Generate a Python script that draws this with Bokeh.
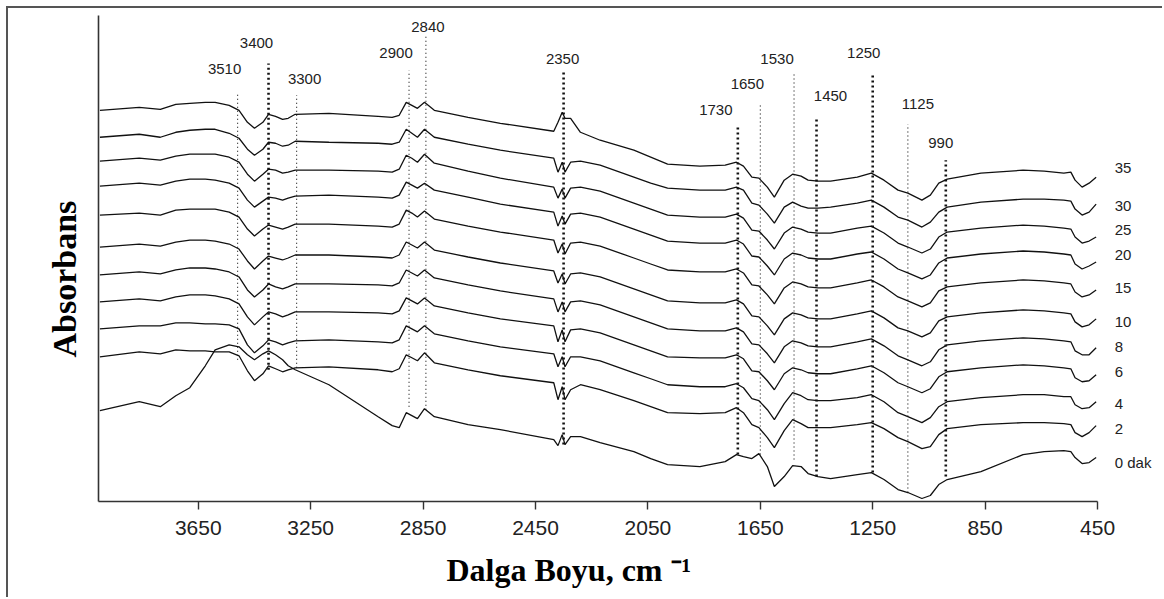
from bokeh.plotting import figure
from bokeh.models import ColumnDataSource, Range1d, FixedTicker, Title
from bokeh.core.properties import value
from bokeh.embed import file_html
from bokeh.resources import INLINE

# ---------------- data ----------------
WAVENUMBER = [4000, 3860, 3785, 3730, 3680, 3625, 3590, 3540,
              3505, 3475, 3450, 3420, 3400, 3375, 3350, 3330, 3305,
              3185, 3010, 2960, 2935, 2910, 2890, 2870, 2845, 2810,
              2690, 2575, 2385, 2370, 2355, 2345, 2325, 2290, 2220,
              2100, 2040, 1980, 1865, 1775, 1735, 1710, 1680, 1655, 1625, 1600, 1565, 1535, 1505, 1480, 1445, 1400,
              1305, 1255, 1210, 1160, 1125, 1075, 1045, 1015, 985, 865, 715, 640, 570, 545, 530, 505, 480, 455]

TIMES = ["35", "30", "25", "20", "15", "10", "8", "6", "4", "2", "0 dak"]

# vertical stacking offset of each spectrum (a.u.)
STACK_OFFSET = [392, 365, 341, 316, 287, 255, 227, 200, 173, 145, 91]

# absorbance of each spectrum relative to its value at 4000 cm-1 (a.u.)
SPEC_35 = [0, 3, 1, 6, 7, 8, 8, 5,
           0, -12, -18, -12, -4, -6, -9, -8, -4,
           -3, -6, -7, -5, 8, 5, 2, 8, 0,
           -7, -13, -21, -12, -2, -8, -8, -22, -30,
           -40, -47, -54, -56, -55, -52, -56, -67, -68, -77, -87, -70, -64, -66, -70, -71, -71,
           -67, -63, -70, -80, -83, -90, -85, -73, -69, -63, -60, -61, -63, -62, -70, -77, -73, -67]
SPEC_30 = [0, 3, 0, 5, 7, 8, 8, 4,
           -1, -12, -18, -12, -5, -6, -9, -8, -4,
           -5, -6, -7, -5, 8, 4, 0, 8, 0,
           -7, -13, -21, -35, -25, -35, -25, -24, -28,
           -40, -46, -51, -53, -53, -50, -53, -66, -68, -77, -86, -70, -65, -69, -71, -71, -70,
           -66, -63, -70, -80, -83, -90, -85, -75, -70, -65, -62, -62, -63, -64, -72, -78, -75, -67]
SPEC_25 = [0, 3, 1, 5, 7, 7, 7, 4,
           -1, -13, -20, -13, -8, -9, -12, -11, -9,
           -9, -10, -11, -8, 6, 3, -1, 7, -2,
           -10, -17, -26, -37, -28, -37, -27, -26, -30,
           -42, -48, -54, -56, -56, -53, -57, -69, -70, -79, -88, -72, -66, -68, -71, -72, -72,
           -67, -65, -72, -82, -86, -92, -88, -76, -71, -67, -64, -65, -67, -68, -76, -82, -80, -76]
SPEC_20 = [0, 3, 1, 5, 7, 7, 6, 3,
           -2, -14, -21, -15, -11, -12, -14, -12, -10,
           -9, -11, -12, -9, 4, 1, -2, 3, -4,
           -11, -18, -26, -40, -30, -38, -28, -27, -31,
           -43, -49, -55, -57, -57, -54, -58, -70, -71, -80, -89, -73, -67, -69, -72, -73, -73,
           -68, -66, -73, -83, -87, -93, -89, -77, -72, -68, -65, -66, -68, -69, -78, -83, -80, -76]
SPEC_15 = [0, 2, 0, 5, 6, 6, 6, 3,
           -2, -14, -21, -14, -10, -12, -14, -12, -9,
           -9, -11, -12, -9, 5, 2, -2, 4, -4,
           -11, -17, -25, -38, -29, -39, -28, -27, -31,
           -43, -49, -55, -57, -57, -54, -58, -70, -71, -80, -89, -73, -67, -69, -72, -73, -73,
           -68, -65, -72, -82, -86, -92, -88, -76, -72, -68, -65, -66, -68, -69, -77, -82, -80, -75]
SPEC_10 = [0, 3, 1, 5, 7, 7, 6, 3,
           -2, -14, -22, -14, -9, -11, -13, -11, -8,
           -8, -10, -11, -8, 5, 2, -1, 5, -3,
           -10, -16, -24, -36, -27, -37, -27, -26, -30,
           -42, -48, -54, -56, -56, -53, -57, -69, -70, -79, -88, -72, -66, -68, -71, -72, -72,
           -67, -64, -71, -81, -84, -90, -86, -74, -70, -66, -63, -64, -66, -67, -75, -80, -78, -72]
SPEC_8 = [0, 3, 1, 5, 7, 7, 6, 3,
          -2, -15, -22, -15, -9, -12, -14, -12, -9,
          -9, -10, -11, -8, 5, 2, -1, 5, -3,
          -10, -16, -24, -37, -27, -37, -27, -26, -30,
          -42, -48, -54, -56, -56, -53, -57, -69, -70, -79, -88, -72, -66, -68, -71, -72, -72,
          -67, -64, -71, -81, -85, -91, -87, -75, -70, -66, -63, -64, -66, -67, -76, -80, -80, -73]
SPEC_6 = [0, 3, 1, 5, 7, 7, 6, 3,
          -2, -15, -23, -15, -10, -12, -15, -13, -10,
          -10, -11, -12, -9, 4, 1, -2, 4, -4,
          -11, -17, -24, -40, -28, -40, -28, -27, -31,
          -43, -49, -55, -56, -56, -53, -57, -69, -70, -79, -88, -72, -66, -68, -71, -72, -72,
          -67, -64, -71, -81, -85, -91, -87, -75, -70, -66, -63, -64, -66, -67, -76, -80, -79, -73]
SPEC_4 = [0, 3, 3, 6, 6, 5, 5, 4,
          0, -16, -24, -17, -11, -13, -16, -14, -12,
          -11, -13, -14, -11, 3, 0, -3, 3, -5,
          -12, -18, -25, -38, -28, -38, -28, -28, -32,
          -44, -50, -56, -58, -58, -55, -59, -70, -72, -81, -91, -75, -64, -67, -71, -72, -72,
          -69, -66, -73, -84, -88, -94, -89, -78, -73, -69, -66, -66, -68, -68, -76, -80, -79, -73]
SPEC_2 = [0, 5, 3, 7, 6, 6, 5, 5,
          1, -14, -24, -17, -9, -12, -15, -13, -11,
          -10, -13, -15, -12, 2, -1, -4, 4, -6,
          -13, -19, -26, -43, -30, -43, -33, -28, -33,
          -44, -50, -56, -57, -56, -51, -56, -68, -71, -81, -91, -74, -63, -67, -71, -71, -71,
          -68, -66, -72, -81, -85, -92, -90, -78, -72, -68, -66, -66, -67, -68, -76, -80, -76, -69]
SPEC_0 = [0, 9, 4, 15, 23, 45, 61, 66,
          64, 56, 51, 57, 60, 56, 51, 45, 41,
          26, -6, -15, -17, -2, -5, -8, 2, -6,
          -14, -19, -29, -35, -24, -34, -26, -26, -32,
          -41, -48, -54, -56, -51, -44, -46, -48, -43, -56, -76, -66, -55, -56, -63, -66, -68,
          -64, -62, -69, -79, -82, -88, -85, -74, -69, -61, -44, -41, -40, -41, -47, -53, -52, -47]

SPECTRA = [SPEC_35, SPEC_30, SPEC_25, SPEC_20, SPEC_15, SPEC_10,
           SPEC_8, SPEC_6, SPEC_4, SPEC_2, SPEC_0]

PEAKS = [3510, 3400, 3300, 2900, 2840, 2350, 1730, 1650, 1530, 1450, 1250, 1125, 990]
PEAK_BOLD = [False, True, False, False, False, True, True, False, False, True, True, False, True]

X_TICKS = [3650, 3250, 2850, 2450, 2050, 1650, 1250, 850, 450]

# ---------------- layout (positions / styles) ----------------
PEAK_LINE_TOP = [409, 439, 407, 432, 467, 430, 375, 397, 430, 384, 429, 378, 342]
PEAK_LINE_BOTTOM = [142, 132, 134, 95, 92, 57, 47, 47, 42, 25, 29, 9, 25]
PEAK_LABEL_Y = [433, 459, 423, 449, 475, 443, 392, 418, 443, 406, 449, 398, 359]
PEAK_LABEL_DX = [-13, -12, 8, -13, 2, -1, -22, -13, -17, 14, -9, 10, -5]
TIME_LABEL_X = 389
TIME_LABEL_Y = [334, 296, 272, 247, 214, 180, 155, 130, 98, 73, 39]

INK = "#111111"
NUM_FONT = "Liberation Sans"
TITLE_FONT = "Liberation Serif"

p = figure(width=1156, height=591,
           x_range=Range1d(4005, 226), y_range=Range1d(0, 487),
           output_backend="svg", toolbar_location=None,
           min_border_left=90, min_border_right=4,
           min_border_top=7, min_border_bottom=97)
p.styles = {"margin-left": "6px", "margin-top": "6px",
            "border-left": "2px solid #555555", "border-top": "2px solid #555555"}
p.outline_line_color = None
p.xgrid.visible = False
p.ygrid.visible = False
p.background_fill_color = "white"
p.border_fill_color = "white"

# x axis
p.xaxis.ticker = FixedTicker(ticks=X_TICKS)
p.xaxis.bounds = (450, 4005)
p.xaxis.axis_line_color = "#333333"
p.xaxis.axis_line_width = 1.6
p.xaxis.major_tick_line_color = "#333333"
p.xaxis.major_tick_line_width = 1.4
p.xaxis.major_tick_out = 8
p.xaxis.major_tick_in = 0
p.xaxis.minor_tick_out = 0
p.xaxis.minor_tick_in = 0
p.xaxis.major_label_text_font = NUM_FONT
p.xaxis.major_label_text_font_size = "21px"
p.xaxis.major_label_text_color = "#222222"
p.xaxis.major_label_standoff = 11

# y axis: bare line
p.yaxis.ticker = FixedTicker(ticks=[])
p.yaxis.minor_tick_out = 0
p.yaxis.major_tick_out = 0
p.yaxis.axis_line_color = "#333333"
p.yaxis.axis_line_width = 1.6

# spectra
for off, spec in zip(STACK_OFFSET, SPECTRA):
    p.line(WAVENUMBER, [off + v for v in spec], line_color=INK, line_width=1.3)

# peak marker lines
for bold in (False, True):
    idx = [i for i, b in enumerate(PEAK_BOLD) if b == bold]
    src = ColumnDataSource(dict(
        x=[PEAKS[i] for i in idx],
        y0=[PEAK_LINE_BOTTOM[i] for i in idx],
        y1=[PEAK_LINE_TOP[i] for i in idx]))
    if bold:
        p.segment(x0="x", y0="y0", x1="x", y1="y1", source=src,
                  line_color=INK, line_width=2.6, line_dash="2 3")
    else:
        p.segment(x0="x", y0="y0", x1="x", y1="y1", source=src,
                  line_color=INK, line_width=1.1, line_dash="1 3")

# peak labels
lab_src = ColumnDataSource(dict(x=PEAKS, y=PEAK_LABEL_Y, dx=PEAK_LABEL_DX,
                                t=[str(v) for v in PEAKS]))
p.text(x="x", y="y", text="t", x_offset="dx", source=lab_src,
       text_font=value(NUM_FONT), text_font_size="15px", text_color="#222222",
       text_align="center", text_baseline="middle")

# time labels
t_src = ColumnDataSource(dict(x=[TIME_LABEL_X] * len(TIMES), y=TIME_LABEL_Y, t=TIMES))
p.text(x="x", y="y", text="t", source=t_src,
       text_font=value(NUM_FONT), text_font_size="15px", text_color="#222222",
       text_align="left", text_baseline="middle")

# axis titles
p.add_layout(Title(text="Dalga Boyu, cm \u207b\u00b9", text_font=TITLE_FONT,
                   text_font_style="bold", text_font_size="32px", text_color="#000000",
                   align="left", offset=348, standoff=24), "below")
p.add_layout(Title(text="Absorbans", text_font=TITLE_FONT,
                   text_font_style="bold", text_font_size="34px", text_color="#000000",
                   align="left", offset=144, standoff=31), "left")

open("out.html", "w").write(file_html(p, INLINE))
